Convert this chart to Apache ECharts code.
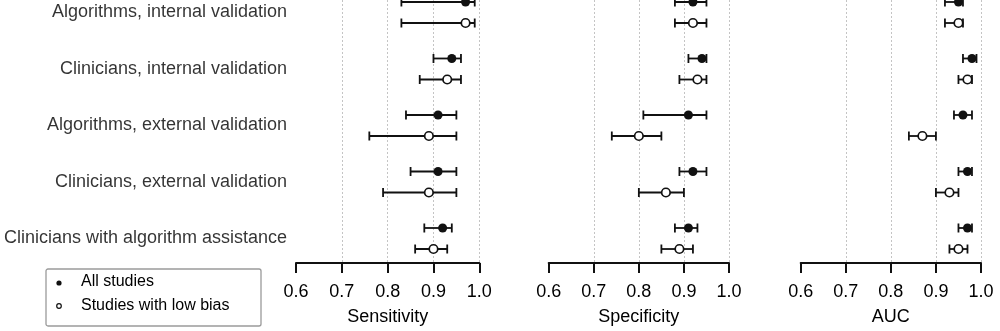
<!DOCTYPE html>
<html>
<head>
<meta charset="utf-8">
<script src="https://cdn.jsdelivr.net/npm/echarts@6/dist/echarts.min.js"></script>
<style>
html,body{margin:0;padding:0;background:#fff;}
#c{width:1000px;height:331px;}
</style>
</head>
<body>
<div id="c"></div>
<script>
// ---- data ----
const categories = [
  'Algorithms, internal validation',
  'Clinicians, internal validation',
  'Algorithms, external validation',
  'Clinicians, external validation',
  'Clinicians with algorithm assistance'
];
const panelNames = ['Sensitivity', 'Specificity', 'AUC'];
const tickValues = [0.6, 0.7, 0.8, 0.9, 1.0];

// All studies
const sensAll   = [0.97, 0.94, 0.91, 0.91, 0.92];
const sensAllLo = [0.83, 0.90, 0.84, 0.85, 0.88];
const sensAllHi = [0.99, 0.96, 0.95, 0.95, 0.94];
// Studies with low bias
const sensLow   = [0.97, 0.93, 0.89, 0.89, 0.90];
const sensLowLo = [0.83, 0.87, 0.76, 0.79, 0.86];
const sensLowHi = [0.99, 0.96, 0.95, 0.95, 0.93];

const specAll   = [0.92, 0.94, 0.91, 0.92, 0.91];
const specAllLo = [0.88, 0.91, 0.81, 0.89, 0.88];
const specAllHi = [0.95, 0.95, 0.95, 0.95, 0.93];
const specLow   = [0.92, 0.93, 0.80, 0.86, 0.89];
const specLowLo = [0.88, 0.89, 0.74, 0.80, 0.85];
const specLowHi = [0.95, 0.95, 0.85, 0.90, 0.92];

const aucAll    = [0.95, 0.98, 0.96, 0.97, 0.97];
const aucAllLo  = [0.92, 0.96, 0.94, 0.95, 0.95];
const aucAllHi  = [0.96, 0.99, 0.98, 0.98, 0.98];
const aucLow    = [0.95, 0.97, 0.87, 0.93, 0.95];
const aucLowLo  = [0.92, 0.95, 0.84, 0.90, 0.93];
const aucLowHi  = [0.96, 0.98, 0.90, 0.95, 0.97];

const legendNames = ['All studies', 'Studies with low bias'];

// ---- build ----
const FONT = 'Liberation Sans, Arial, sans-serif';
const INK = '#000';
const ROW_OFF = 0.186; // vertical offset of the two estimates inside a row (in row units)

const panels = [
  {all: sensAll, allLo: sensAllLo, allHi: sensAllHi, low: sensLow, lowLo: sensLowLo, lowHi: sensLowHi},
  {all: specAll, allLo: specAllLo, allHi: specAllHi, low: specLow, lowLo: specLowLo, lowHi: specLowHi},
  {all: aucAll,  allLo: aucAllLo,  allHi: aucAllHi,  low: aucLow,  lowLo: aucLowLo,  lowHi: aucLowHi}
];

const gridLayout = [
  {left: 296, width: 183.3},
  {left: 548.7, width: 180.3},
  {left: 800.7, width: 180.3}
];

const grids = gridLayout.map(g => ({left: g.left, width: g.width, top: 0, bottom: 68}));

const xAxes = panelNames.map((nm, i) => ({
  type: 'value', gridIndex: i, position: 'bottom',
  min: tickValues[0], max: tickValues[tickValues.length - 1], interval: 0.1,
  name: nm, nameLocation: 'middle', nameGap: 45,
  nameTextStyle: {fontFamily: FONT, fontSize: 18, color: INK},
  axisLine: {show: true, onZero: false, lineStyle: {color: '#111', width: 2}},
  axisTick: {show: true, length: 10, lineStyle: {color: '#111', width: 2}},
  axisLabel: {fontFamily: FONT, fontSize: 18, color: INK, margin: 20,
    formatter: v => v.toFixed(1)},
  splitLine: {show: true, showMinLine: false, lineStyle: {type: [2, 2], color: '#c4c4c4', width: 1}}
}));

const yAxes = panelNames.map((nm, i) => ({
  type: 'value', gridIndex: i, inverse: true, min: -0.2212, max: 4.4336,
  show: false, splitLine: {show: false}
}));

function errRender(params, api) {
  const y = api.value(2);
  const p1 = api.coord([api.value(0), y]);
  const p2 = api.coord([api.value(1), y]);
  const h = 4.5;
  const st = {stroke: '#111', lineWidth: 1.8};
  return {
    type: 'group',
    children: [
      {type: 'line', shape: {x1: p1[0], y1: p1[1], x2: p2[0], y2: p2[1]}, style: st},
      {type: 'line', shape: {x1: p1[0], y1: p1[1] - h, x2: p1[0], y2: p1[1] + h}, style: st},
      {type: 'line', shape: {x1: p2[0], y1: p2[1] - h, x2: p2[0], y2: p2[1] + h}, style: st}
    ]
  };
}

const series = [];
panels.forEach((p, i) => {
  const allBars = categories.map((c, k) => [p.allLo[k], p.allHi[k], k - ROW_OFF]);
  const lowBars = categories.map((c, k) => [p.lowLo[k], p.lowHi[k], k + ROW_OFF]);
  series.push({
    type: 'custom', xAxisIndex: i, yAxisIndex: i, renderItem: errRender,
    data: allBars.concat(lowBars), clip: false, silent: true, z: 2,
    encode: {x: [0, 1], y: 2}
  });
  series.push({
    name: legendNames[0], type: 'scatter', xAxisIndex: i, yAxisIndex: i, clip: false, z: 3,
    symbol: 'circle', symbolSize: 9,
    itemStyle: {color: '#111', opacity: 1},
    data: categories.map((c, k) => [p.all[k], k - ROW_OFF])
  });
  series.push({
    name: legendNames[1], type: 'scatter', xAxisIndex: i, yAxisIndex: i, clip: false, z: 3,
    symbol: 'circle', symbolSize: 8.5,
    itemStyle: {color: '#fff', borderColor: '#111', borderWidth: 1.7, opacity: 1},
    data: categories.map((c, k) => [p.low[k], k + ROW_OFF])
  });
});

// Row labels, anchored at the left edge of the first panel
series.push({
  type: 'scatter', xAxisIndex: 0, yAxisIndex: 0, clip: false, silent: true,
  symbolSize: 0,
  data: categories.map((c, k) => ({name: c, value: [tickValues[0], k]})),
  label: {show: true, position: 'left', distance: 9, formatter: '{b}',
    fontFamily: FONT, fontSize: 18, color: INK}
});

const chart = echarts.init(document.getElementById('c'), null, {renderer: 'canvas'});
chart.setOption({
  backgroundColor: '#fff',
  animation: false,
  grid: grids,
  xAxis: xAxes,
  yAxis: yAxes,
  series: series,
  graphic: [
    {type: 'rect', left: 43.5, top: 266.5, shape: {width: 215, height: 57, r: 2},
      style: {fill: 'none', stroke: '#9a9a9a', lineWidth: 1.3}},
    {type: 'circle', shape: {cx: 59, cy: 283, r: 2.6}, style: {fill: '#111'}},
    {type: 'circle', shape: {cx: 59, cy: 306, r: 2.3}, style: {fill: '#fff', stroke: '#111', lineWidth: 1.2}},
    {type: 'text', left: 81, top: 274, style: {text: legendNames[0], font: '16px ' + FONT, fill: INK}},
    {type: 'text', left: 81, top: 297.5, style: {text: legendNames[1], font: '16px ' + FONT, fill: INK}}
  ]
});
</script>
</body>
</html>
